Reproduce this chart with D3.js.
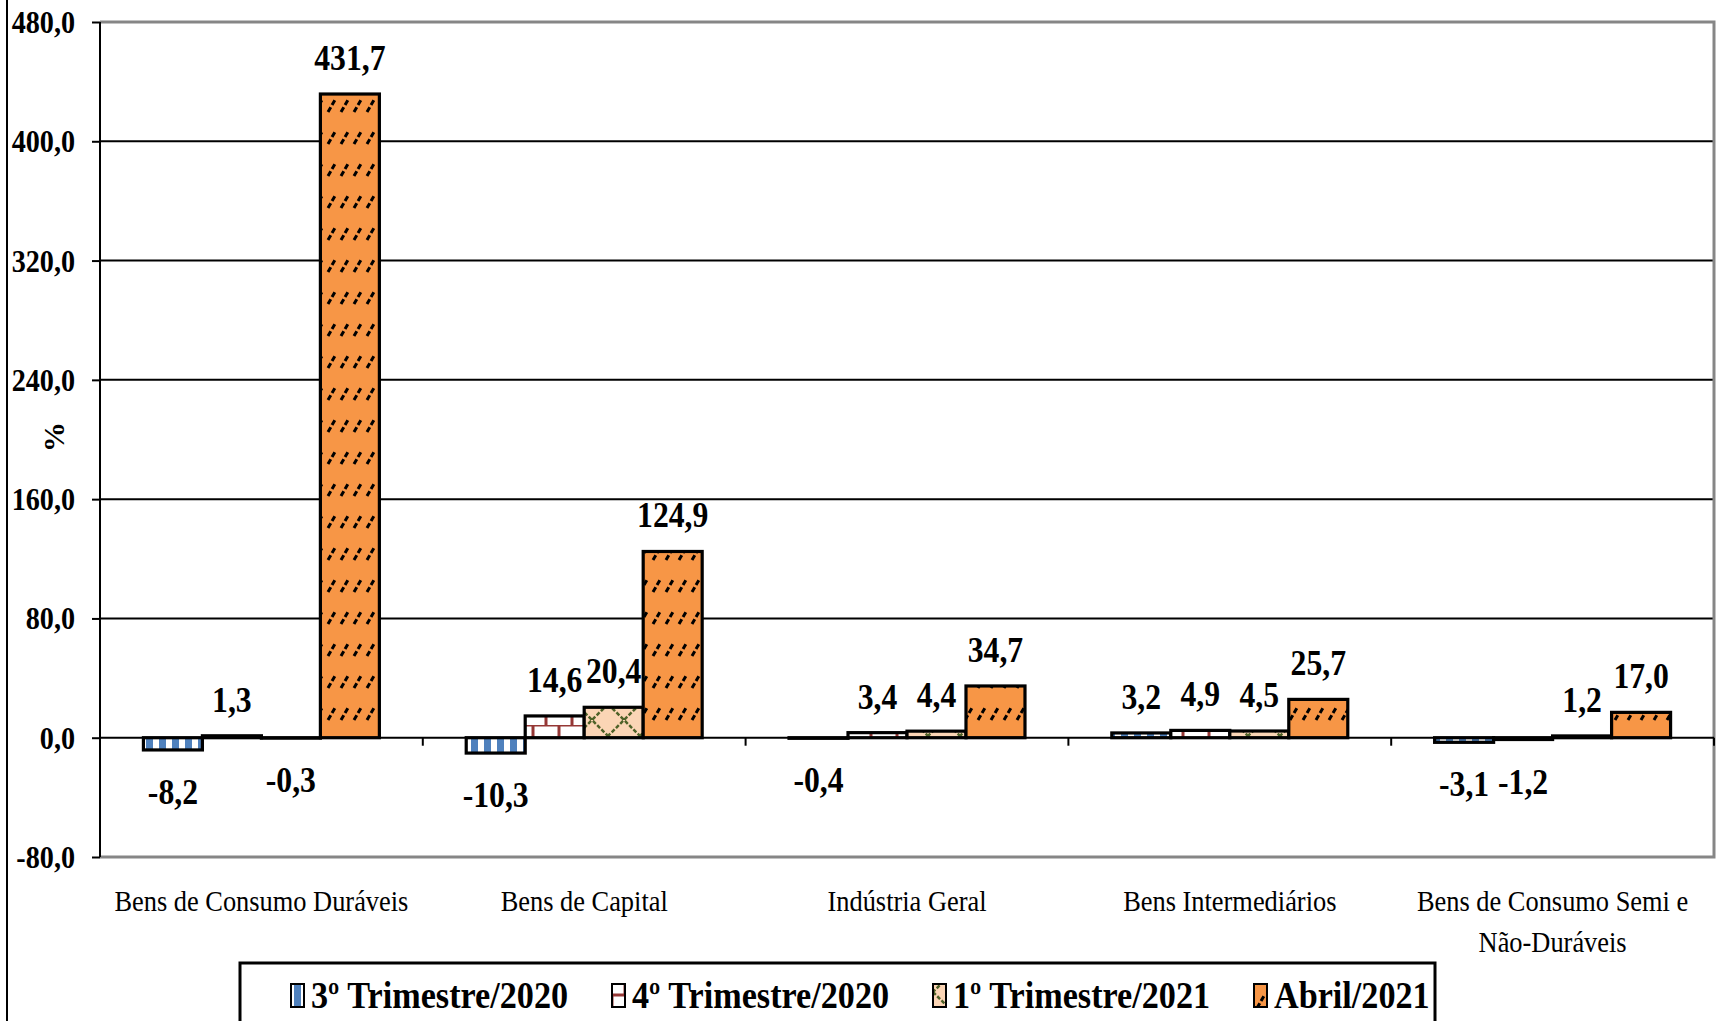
<!DOCTYPE html>
<html>
<head>
<meta charset="utf-8">
<script src="https://cdn.jsdelivr.net/npm/d3@7"></script>
<style>
  body { margin: 0; background: #fff; }
  text { font-family: "Liberation Serif", "Times New Roman", serif; fill: #000; }
</style>
</head>
<body>
<div id="wrapper"></div>
<script>

// data
const categories = [
    "Bens de Consumo Duráveis",
    "Bens de Capital",
    "Indústria Geral",
    "Bens Intermediários",
    "Bens de Consumo Semi e Não-Duráveis"
]
const seriesNames = ["3º Trimestre/2020", "4º Trimestre/2020", "1º Trimestre/2021", "Abril/2021"]
const tri3_2020 = [-8.2, -10.3, -0.4, 3.2, -3.1]
const tri4_2020 = [1.3, 14.6, 3.4, 4.9, -1.2]
const tri1_2021 = [-0.3, 20.4, 4.4, 4.5, 1.2]
const abril_2021 = [431.7, 124.9, 34.7, 25.7, 17.0]
const yTicks = [-80, 0, 80, 160, 240, 320, 400, 480]

async function draw(){

    const seriesValues = [tri3_2020, tri4_2020, tri1_2021, abril_2021]
    const fmt = d => d3.format(".1f")(d).replace(".", ",").replace("−", "-")

    // text in the original is a condensed serif
    const SX = 0.88

    // 1. Chart dimensions
    let dimensions = {
        width: 1723,
        height: 1021,
        margin: { top: 22, right: 9, bottom: 164, left: 100 },
    }
    dimensions.boundedWidth = dimensions.width - dimensions.margin.left - dimensions.margin.right
    dimensions.boundedHeight = dimensions.height - dimensions.margin.top - dimensions.margin.bottom

    const svg = d3.select("#wrapper")
        .append("svg")
        .attr("width", dimensions.width)
        .attr("height", dimensions.height)

    // 2. Patterns (Excel style fills)
    const defs = svg.append("defs")

    const pBlue = defs.append("pattern").attr("id", "p0")
        .attr("patternUnits", "userSpaceOnUse").attr("width", 13).attr("height", 10)
    pBlue.append("rect").attr("width", 13).attr("height", 10).attr("fill", "#fff")
    pBlue.append("rect").attr("x", 3).attr("width", 7).attr("height", 10).attr("fill", "#4f81bd")

    const pRed = defs.append("pattern").attr("id", "p1")
        .attr("patternUnits", "userSpaceOnUse").attr("width", 26).attr("height", 36)
        .attr("y", 5)
    pRed.append("rect").attr("width", 26).attr("height", 36).attr("fill", "#fff")
    pRed.append("path")
        .attr("d", "M0,0H26M0,18H26M13,0V18M0,18V36M26,18V36")
        .attr("stroke", "#953735").attr("stroke-width", 3).attr("fill", "none")

    const pPeach = defs.append("pattern").attr("id", "p2")
        .attr("patternUnits", "userSpaceOnUse").attr("width", 32).attr("height", 32)
    pPeach.append("rect").attr("width", 32).attr("height", 32).attr("fill", "#fbd5b5")
    pPeach.append("path")
        .attr("d", "M0,0L32,32M32,0L0,32")
        .attr("stroke", "#4f6228").attr("stroke-width", 2.5)
        .attr("stroke-dasharray", "4 2").attr("fill", "none")

    const pOrange = defs.append("pattern").attr("id", "p3")
        .attr("patternUnits", "userSpaceOnUse").attr("width", 13).attr("height", 32)
    pOrange.append("rect").attr("width", 13).attr("height", 32).attr("fill", "#f79646")
    pOrange.append("path")
        .attr("d", "M3,16L10,4")
        .attr("stroke", "#000").attr("stroke-width", 3)
        .attr("stroke-dasharray", "5.5 2.5").attr("fill", "none")

    const fills = ["url(#p0)", "url(#p1)", "url(#p2)", "url(#p3)"]

    // 3. Scales
    const yScale = d3.scaleLinear()
        .domain([-80, 480])
        .range([dimensions.margin.top + dimensions.boundedHeight, dimensions.margin.top])

    const x0 = d3.scaleBand()
        .domain(categories)
        .range([dimensions.margin.left, dimensions.margin.left + dimensions.boundedWidth])

    const x1 = d3.scaleBand()
        .domain(seriesNames)
        .range([0, x0.bandwidth()])
        .paddingInner(0)
        .paddingOuter(0.736)

    const plotLeft = dimensions.margin.left
    const plotRight = dimensions.margin.left + dimensions.boundedWidth
    const plotTop = dimensions.margin.top
    const plotBottom = dimensions.margin.top + dimensions.boundedHeight

    // outer chart border (left side is visible)
    svg.append("line")
        .attr("x1", 7).attr("x2", 7).attr("y1", 0).attr("y2", dimensions.height)
        .attr("stroke", "#000").attr("stroke-width", 2)

    // 4. Gridlines
    svg.append("g")
        .selectAll("line")
        .data(yTicks.filter(d => d > -80 && d < 480 && d !== 0))
        .join("line")
        .attr("x1", plotLeft).attr("x2", plotRight)
        .attr("y1", d => yScale(d)).attr("y2", d => yScale(d))
        .attr("stroke", "#000").attr("stroke-width", 2)

    // plot area border (top, right, bottom)
    svg.append("path")
        .attr("d", `M${plotLeft},${plotTop}H${plotRight}V${plotBottom}H${plotLeft}`)
        .attr("fill", "none").attr("stroke", "#868686").attr("stroke-width", 3)

    // 5. Bars
    const groups = svg.append("g")
        .selectAll("g")
        .data(seriesNames)
        .join("g")
        .attr("fill", (d, i) => fills[i])

    groups.selectAll("rect")
        .data((s, i) => seriesValues[i].map((v, j) => ({ s, v, c: categories[j] })))
        .join("rect")
        .attr("x", d => x0(d.c) + x1(d.s))
        .attr("width", x1.bandwidth())
        .attr("y", d => yScale(Math.max(0, d.v)))
        .attr("height", d => Math.abs(yScale(d.v) - yScale(0)))
        .attr("stroke", "#000")
        .attr("stroke-width", 3.2)

    // 6. Axes
    const yAxis = d3.axisLeft(yScale)
        .tickValues(yTicks)
        .tickSize(8)
        .tickFormat(fmt)

    const yAxisG = svg.append("g")
        .attr("transform", `translate(${plotLeft},0)`)
        .call(yAxis)
    yAxisG.select(".domain").attr("stroke", "#000").attr("stroke-width", 2)
        .attr("d", `M0,${plotTop}V${plotBottom}`)
    yAxisG.selectAll(".tick line").attr("stroke", "#000").attr("stroke-width", 2)
    yAxisG.selectAll(".tick text")
        .attr("font-family", "Liberation Serif")
        .attr("font-weight", "bold")
        .attr("font-size", 32)
        .attr("dy", "0.33em")
        .attr("x", -25 / SX)
        .attr("transform", `scale(${SX},1)`)

    // x axis on the zero line
    svg.append("line")
        .attr("x1", plotLeft).attr("x2", plotRight)
        .attr("y1", yScale(0)).attr("y2", yScale(0))
        .attr("stroke", "#000").attr("stroke-width", 2)

    svg.append("g")
        .selectAll("line")
        .data(categories.slice(1).concat(["end"]))
        .join("line")
        .attr("x1", d => d === "end" ? plotRight : x0(d))
        .attr("x2", d => d === "end" ? plotRight : x0(d))
        .attr("y1", yScale(0)).attr("y2", yScale(0) + 8)
        .attr("stroke", "#000").attr("stroke-width", 2)

    // category labels (wrapped to the band width)
    const catLabels = svg.append("g")
        .selectAll("text")
        .data(categories)
        .join("text")
        .attr("font-size", 30)
        .attr("text-anchor", "middle")
        .attr("transform", d => `translate(${x0(d) + x0.bandwidth() / 2},${plotBottom + 54}) scale(${SX},1)`)

    catLabels.each(function(d){
        const el = d3.select(this)
        const words = d.split(" ")
        let lines = [[]]
        words.forEach(w => {
            const cur = lines[lines.length - 1]
            const test = el.append("tspan").text(cur.concat([w]).join(" "))
            const len = test.node().getComputedTextLength() * SX
            test.remove()
            if (len > x0.bandwidth() - 20 && cur.length) lines.push([w])
            else cur.push(w)
        })
        lines.forEach((l, i) => {
            el.append("tspan").attr("x", 0).attr("y", i * 41).text(l.join(" "))
        })
    })

    // y axis title
    svg.append("text")
        .attr("transform", `translate(64,437) rotate(-90)`)
        .attr("text-anchor", "middle")
        .attr("font-weight", "bold")
        .attr("font-size", 30)
        .text("%")

    // 7. Value labels
    const labelG = svg.append("g")
    seriesNames.forEach((s, i) => {
        labelG.append("g")
            .selectAll("text")
            .data(seriesValues[i].map((v, j) => ({ s, v, c: categories[j] })))
            .join("text")
            .attr("font-size", 36)
            .attr("font-weight", "bold")
            .attr("text-anchor", "middle")
            .attr("transform", d => {
                const cx = x0(d.c) + x1(d.s) + x1.bandwidth() / 2
                const ty = d.v >= 0 ? yScale(d.v) - 24 : yScale(d.v) + 54
                return `translate(${cx},${ty}) scale(${SX},1)`
            })
            .text(d => fmt(d.v))
    })

    // 8. Legend
    const legend = svg.append("g")
    legend.append("rect")
        .attr("x", 240).attr("y", 963)
        .attr("width", 1195).attr("height", 100)
        .attr("fill", "#fff").attr("stroke", "#000").attr("stroke-width", 3)

    const legendX = d3.scalePoint()
        .domain(seriesNames)
        .range([291, 1254])

    const items = legend.selectAll("g.item")
        .data(seriesNames)
        .join("g")
        .attr("class", "item")
        .attr("transform", d => `translate(${legendX(d)},0)`)

    items.append("rect")
        .attr("x", 0).attr("y", 984)
        .attr("width", 13).attr("height", 23)
        .attr("fill", (d, i) => fills[i])
        .attr("stroke", "#000").attr("stroke-width", 2)

    items.append("text")
        .attr("transform", `translate(20,1008) scale(0.9,1)`)
        .attr("font-size", 38)
        .attr("font-weight", "bold")
        .text(d => d)
}

draw()
</script>
</body>
</html>
